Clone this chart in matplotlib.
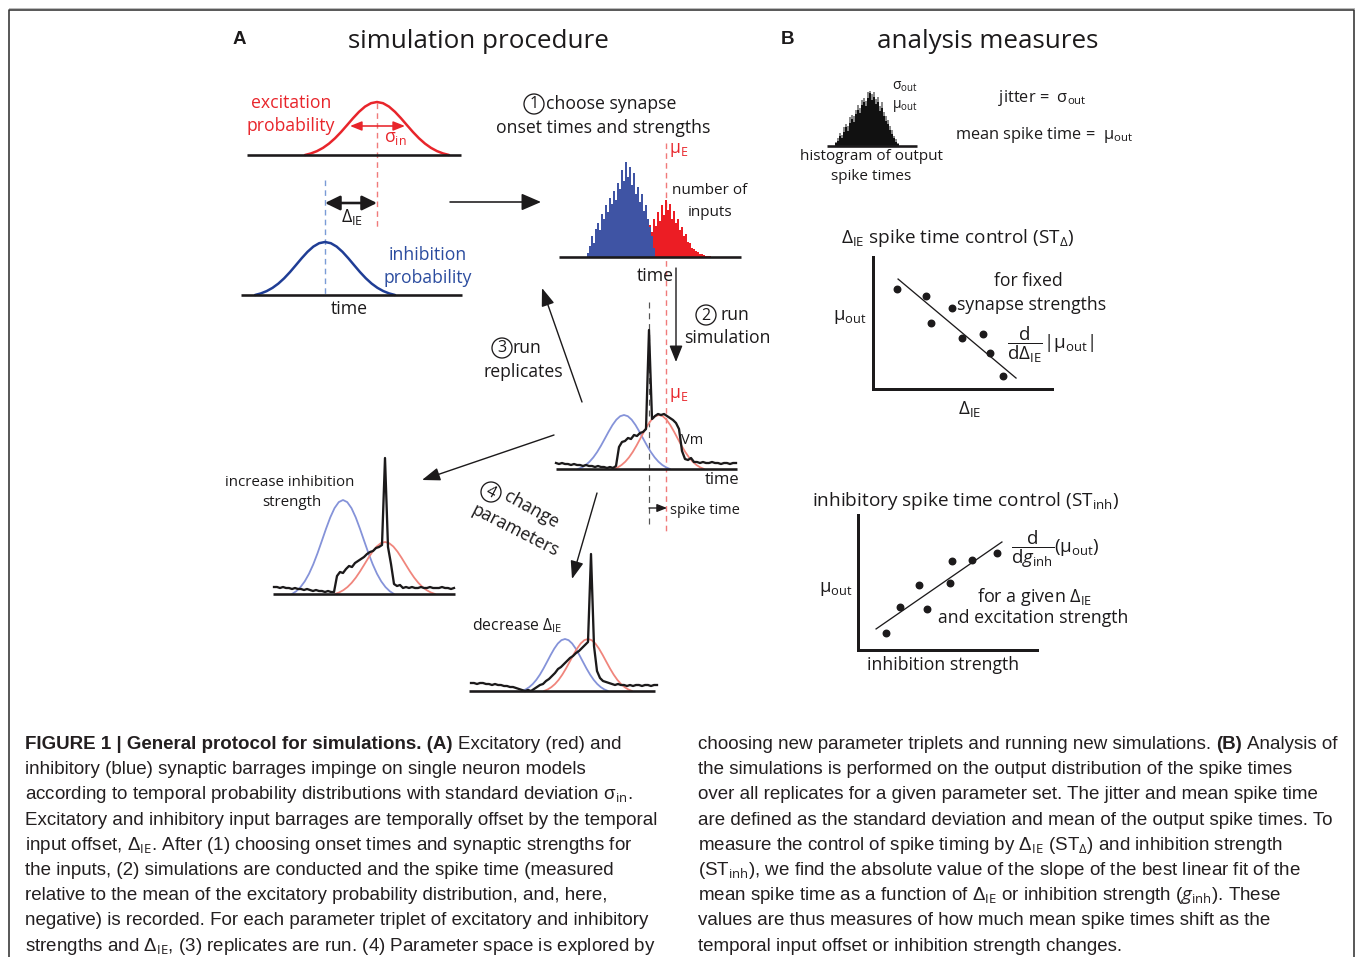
import numpy as np
import matplotlib
matplotlib.use("Agg")
import matplotlib.pyplot as plt
from matplotlib.patches import Circle

W, H = 1355, 957

# ---------------- data ----------------
# shared probability profile of the input-distribution curves (25 samples, centre = 1)
bump = [0.0, 0.0298, 0.0735, 0.1344, 0.2149, 0.3152, 0.4329, 0.5621, 0.6931, 0.8144, 0.9131,
        0.9775, 1.0, 0.9775, 0.9131, 0.8144, 0.6931, 0.5621, 0.4329, 0.3152, 0.2149, 0.1344,
        0.0735, 0.0298, 0.0]

# A: excitation / inhibition probability (mean time, half width in panel time units)
exc_prob_mean, exc_prob_half = 130, 72
inh_prob_mean, inh_prob_half = 84, 70

# A: histogram of input onset times (normalised counts, bins of 2 time units)
inh_first_bin = 14
inh_counts = [0.04, 0.12, 0.22, 0.15, 0.30, 0.36, 0.28, 0.45, 0.40, 0.55, 0.47, 0.62, 0.56, 0.70,
              0.60, 0.78, 0.72, 0.92, 0.80, 1.00, 0.84, 0.95, 0.76, 0.88, 0.66, 0.74, 0.58, 0.66,
              0.48, 0.55, 0.40, 0.32, 0.22, 0.10]
exc_first_bin = 43
exc_counts = [0.10, 0.24, 0.34, 0.26, 0.40, 0.33, 0.47, 0.38, 0.55, 0.44, 0.60, 0.50, 0.56, 0.40,
              0.48, 0.36, 0.40, 0.28, 0.32, 0.22, 0.24, 0.16, 0.15, 0.10, 0.08, 0.06, 0.05, 0.03,
              0.03, 0.02, 0.015, 0.01, 0.01]

# A: membrane potential traces (height above axis, sampled every 3 time units)
vm_step = 3
vm_sim = [6, 5, 6, 5, 5, 4, 5, 4, 4, 3, 4, 3, 3, 2, 3, 2, 2, 1, 2, 1,
          3, 22, 27, 28, 31, 30, 34, 33, 36, 37, 40, 139, 50, 53, 55, 54, 55, 53, 51, 49, 46, 40,
          18, 10, 9, 11, 7,
          7, 6, 7, 6, 6, 7, 6, 6, 5, 6, 6, 5, 6, 6]
vm_inc = [7, 7, 6, 7, 6, 6, 5, 6, 5, 5, 4, 5, 4, 3, 4, 3, 3, 2, 3, 2, 2,
          18, 22, 21, 25, 28, 27, 31, 33, 35, 37, 40, 42, 43, 46, 47, 49, 136, 47, 30, 10, 8, 9,
          6, 7, 6, 7, 6, 6, 7, 6, 6, 7, 6, 6, 6, 7, 6, 6, 5, 6]
vm_dec = [8, 8, 7, 8, 8, 7, 7, 6, 7, 6, 6, 5, 5, 4, 4, 3, 2, 1,
          0, 1, 0, 2, 4, 6, 7, 10, 12, 15, 18, 22, 24, 27, 30, 33, 35, 38, 40, 43, 46, 49, 137,
          45, 20, 13, 10, 9, 8,
          7, 6, 7, 6, 6, 5, 6, 5, 6, 6, 5, 6, 6, 5, 6, 6]
# input curves in the Vm panels: (mean, half width, height)
sim_inh, sim_exc = (68, 46, 54), (103, 45, 54)
inc_inh, inc_exc = (70, 51, 94), (112, 50, 52)
dec_inh, dec_exc = (96, 43, 52), (119, 44, 52)

# B: histogram of output spike times
out_first_bin = 4
out_counts = [0.05, 0.10, 0.18, 0.14, 0.26, 0.34, 0.28, 0.42, 0.50, 0.44, 0.58, 0.66, 0.60, 0.74,
              0.80, 0.72, 0.88, 0.96, 0.84, 0.90, 0.76, 0.80, 0.64, 0.70, 0.54, 0.46, 0.40, 0.30,
              0.22, 0.14, 0.08, 0.03]
out_counts_rep = [0.08, 0.14, 0.24, 0.20, 0.34, 0.40, 0.36, 0.52, 0.56, 0.54, 0.66, 0.74, 0.70,
                  0.84, 0.88, 0.82, 0.98, 1.00, 0.94, 0.98, 0.86, 0.90, 0.72, 0.80, 0.62, 0.54,
                  0.48, 0.36, 0.30, 0.18, 0.12, 0.05]

# B: spike time control scatter plots
delta_ie = [1.34, 2.96, 3.24, 4.41, 4.97, 6.15, 6.54, 7.26]
mu_out_delta = [7.58, 7.05, 5.00, 6.14, 3.86, 4.17, 2.73, 0.98]
fit_delta_x, fit_delta_y = [1.40, 7.99], [8.33, 0.83]
g_inh = [1.56, 2.35, 3.41, 3.85, 5.14, 5.25, 6.37, 7.77]
mu_out_inh = [1.26, 3.19, 4.81, 3.04, 4.96, 6.59, 6.67, 7.19]
fit_inh_x, fit_inh_y = [1.01, 8.04], [1.56, 8.00]

caption_left = [
    [("FIGURE 1 | General protocol for simulations. (A)", "bold"), ("Excitatory (red) and", "normal")],
    [("inhibitory (blue) synaptic barrages impinge on single neuron models", "normal")],
    [("according to temporal probability distributions with standard deviation σ$_{\\mathrm{in}}$.", "normal")],
    [("Excitatory and inhibitory input barrages are temporally offset by the temporal", "normal")],
    [("input offset, Δ$_{\\mathrm{IE}}$. After (1) choosing onset times and synaptic strengths for", "normal")],
    [("the inputs, (2) simulations are conducted and the spike time (measured", "normal")],
    [("relative to the mean of the excitatory probability distribution, and, here,", "normal")],
    [("negative) is recorded. For each parameter triplet of excitatory and inhibitory", "normal")],
    [("strengths and Δ$_{\\mathrm{IE}}$, (3) replicates are run. (4) Parameter space is explored by", "normal")],
]
caption_right = [
    [("choosing new parameter triplets and running new simulations.", "normal"), ("(B)", "bold"), ("Analysis of", "normal")],
    [("the simulations is performed on the output distribution of the spike times", "normal")],
    [("over all replicates for a given parameter set. The jitter and mean spike time", "normal")],
    [("are defined as the standard deviation and mean of the output spike times. To", "normal")],
    [("measure the control of spike timing by Δ$_{\\mathrm{IE}}$ (ST$_{\\Delta}$) and inhibition strength", "normal")],
    [("(ST$_{\\mathrm{inh}}$), we find the absolute value of the slope of the best linear fit of the", "normal")],
    [("mean spike time as a function of Δ$_{\\mathrm{IE}}$ or inhibition strength ($g_{\\mathrm{inh}}$). These", "normal")],
    [("values are thus measures of how much mean spike times shift as the", "normal")],
    [("temporal input offset or inhibition strength changes.", "normal")],
]

# ---------------- styling ----------------
plt.rcParams['font.family'] = ['Open Sans', 'DejaVu Sans']
plt.rcParams['mathtext.fontset'] = 'custom'
plt.rcParams['mathtext.rm'] = 'Open Sans'
plt.rcParams['mathtext.it'] = 'Open Sans:italic'
plt.rcParams['mathtext.bf'] = 'Open Sans:bold'
plt.rcParams['mathtext.sf'] = 'Open Sans'

K = '#1c1a1b'
RED = '#e8252b'
BLUE = '#1f3d95'
BLUE_TXT = '#2b4c9f'
LBLUE = '#8593d9'
LRED = '#f0857c'
RED_DASH = '#f07a7a'
BLUE_DASH = '#7a9bd6'
HIST_BLUE = '#3f54a4'
HIST_RED = '#ec1d24'
CAP = 'Liberation Sans'
PX = 72 / 100  # points per pixel
LBL = 12.7     # standard label size

fig = plt.figure(figsize=(W / 100, H / 100), dpi=100)
ax = fig.add_axes([0, 0, 1, 1])
ax.set_xlim(0, W)
ax.set_ylim(H, 0)
ax.set_axis_off()


def panel(x0, x1, y_base, y_top, xlim, ylim):
    a = fig.add_axes([x0 / W, 1 - y_base / H, (x1 - x0) / W, (y_base - y_top) / H])
    a.set_xlim(*xlim)
    a.set_ylim(*ylim)
    a.set_axis_off()
    return a


def curve(a, mean, half, height, color, lw):
    t = mean + np.linspace(-1, 1, len(bump)) * half
    a.plot(t, np.array(bump) * height, color=color, lw=lw, clip_on=False, solid_capstyle='round')


def base(a, lw=2.6):
    x0, x1 = a.get_xlim()
    a.plot([x0, x1], [0, 0], color=K, lw=lw * PX, clip_on=False, solid_capstyle='butt')


def txt(x, y, s, size=LBL, color=K, ha='center', va='center', **kw):
    return ax.text(x, y, s, fontsize=size, color=color, ha=ha, va=va, **kw)


def arrow(tail, head, style='-|>,head_length=0.5,head_width=0.2', lw=1.4, color=K, ms=20):
    ax.annotate('', xy=head, xytext=tail,
                arrowprops=dict(arrowstyle=style, color=color, lw=lw * PX, mutation_scale=ms,
                                shrinkA=0, shrinkB=0))


def circ(x, y, digit, r=10, size=11.5, rot=0):
    ax.add_patch(Circle((x, y), r, fill=False, ec=K, lw=1.3 * PX))
    ax.text(x, y + 0.5, digit, fontsize=size, ha='center', va='center', color=K, rotation=rot)


# ---------------- frame ----------------
ax.plot([8.5, 8.5, 1353.5, 1353.5], [H + 5, 9.5, 9.5, H + 5], color='#333333', lw=1.6 * PX)
ax.plot([8.5, 1353.5], [8, 8], color='#bbbbbb', lw=1 * PX)

# ---------------- panel A ----------------
txt(239, 40, 'A', size=13.5, weight='bold', family='Liberation Sans')
txt(478, 42, 'simulation procedure', size=18.7)

# excitation probability
a1 = panel(247, 461, 155, 102, (0, 214), (0, 1))
curve(a1, exc_prob_mean, exc_prob_half, 1.0, RED, 2.5 * PX)
base(a1)
txt(291, 103, 'excitation', color=RED)
txt(291, 126, 'probability', color=RED)
arrow((350, 126), (405, 126), '<|-|>,head_length=0.35,head_width=0.14', lw=1.6, color=RED)
txt(384, 138, 'σ$_{\\mathrm{in}}$', color=RED, ha='left')
ax.plot([377, 377], [103, 228], color=RED_DASH, lw=1.4 * PX, dashes=(4, 3))

# inhibition probability
a2 = panel(241, 462, 295, 242, (0, 221), (0, 1))
curve(a2, inh_prob_mean, inh_prob_half, 1.0, BLUE, 2.5 * PX)
base(a2)
ax.plot([325, 325], [180, 294], color=BLUE_DASH, lw=1.4 * PX, dashes=(4, 3))
arrow((325, 203), (377, 203), '<|-|>,head_length=0.45,head_width=0.22', lw=2.6)
txt(352, 217, 'Δ$_{\\mathrm{IE}}$')
txt(428, 255, 'inhibition', color=BLUE_TXT)
txt(428, 278, 'probability', color=BLUE_TXT)
txt(349, 309, 'time')

arrow((450, 202), (541, 202), '-|>,head_length=0.6,head_width=0.26', lw=1.6)

# step 1: input histogram
circ(534, 104, '1')
txt(546, 104, 'choose synapse', ha='left')
txt(603, 128, 'onset times and strengths')
a3 = panel(559, 741, 257, 162, (0, 182), (0, 1))
a3.bar((exc_first_bin + np.arange(len(exc_counts))) * 2, exc_counts, width=1.7, align='edge',
       color=HIST_RED, linewidth=0)
a3.bar((inh_first_bin + np.arange(len(inh_counts))) * 2, inh_counts, width=1.7, align='edge',
       color=HIST_BLUE, linewidth=0)
base(a3)
ax.plot([666, 666], [143, 532], color=RED_DASH, lw=1.4 * PX, dashes=(4, 3))
txt(669, 150, 'μ$_{\\mathrm{E}}$', color=RED, ha='left')
txt(710, 191, 'number of', size=11)
txt(710, 212, 'inputs', size=11)
txt(655, 276, 'time')

# step 2: run simulation
arrow((676, 268), (676, 362), '-|>,head_length=0.5,head_width=0.2', lw=1.4)
circ(706, 315, '2')
txt(721, 315, 'run', ha='left')
txt(727, 338, 'simulation')

a4 = panel(556, 737, 469, 329, (0, 181), (0, 140))
curve(a4, *sim_inh, LBLUE, 1.8 * PX)
curve(a4, *sim_exc, LRED, 1.8 * PX)
base(a4)
a4.plot(np.arange(len(vm_sim)) * vm_step, vm_sim, color=K, lw=2.3 * PX, clip_on=False)
ax.plot([649, 649], [302, 525], color='#555555', lw=1.2 * PX, dashes=(5, 4))
txt(669, 395, 'μ$_{\\mathrm{E}}$', color=RED, ha='left')
txt(681, 440, 'Vm', ha='left', size=10.5)
txt(722, 480, 'time', size=12)
arrow((649, 508), (667, 508), '-|>,head_length=0.3,head_width=0.12', lw=1.3)
txt(670, 511, 'spike time', ha='left', size=10.5)

# step 3: replicates
arrow((582, 402), (542, 288), '-|>,head_length=0.55,head_width=0.2', lw=1.4)
circ(502, 348, '3')
txt(513, 348, 'run', ha='left')
txt(523, 372, 'replicates')

# step 4: change parameters
arrow((554, 435), (422, 480), '-|>,head_length=0.55,head_width=0.2', lw=1.4)
arrow((597, 493), (572, 579), '-|>,head_length=0.55,head_width=0.2', lw=1.4)
circ(491, 492, '4', rot=-28)
ax.text(531, 510, 'change', fontsize=LBL, rotation=-29, ha='center', va='center',
        rotation_mode='anchor', color=K)
ax.text(515, 531, 'parameters', fontsize=LBL, rotation=-27, ha='center', va='center',
        rotation_mode='anchor', color=K)

# increased inhibition strength
txt(290, 482, 'increase inhibition', size=10.9)
txt(292, 503, 'strength', size=10.9)
a5 = panel(273, 455, 594, 454, (0, 182), (0, 140))
curve(a5, *inc_inh, LBLUE, 1.8 * PX)
curve(a5, *inc_exc, LRED, 1.8 * PX)
base(a5)
a5.plot(1 + np.arange(len(vm_inc)) * vm_step, vm_inc, color=K, lw=2.3 * PX, clip_on=False)

# decreased offset
txt(517, 626, 'decrease Δ$_{\\mathrm{IE}}$', size=11.3)
a6 = panel(469, 655, 691, 551, (0, 186), (0, 140))
curve(a6, *dec_inh, LBLUE, 1.8 * PX)
curve(a6, *dec_exc, LRED, 1.8 * PX)
base(a6)
a6.plot(2 + np.arange(len(vm_dec)) * vm_step, vm_dec, color=K, lw=2.3 * PX, clip_on=False)

# ---------------- panel B ----------------
txt(787, 40, 'B', size=13.5, weight='bold', family='Liberation Sans')
txt(988, 42, 'analysis measures', size=18.7)

a7 = panel(827, 917, 146, 91, (0, 90), (0, 1))
a7.bar((out_first_bin + np.arange(len(out_counts_rep))) * 2, out_counts_rep, width=1.6,
       align='edge', color='#8a8a8a', linewidth=0)
a7.bar((out_first_bin + np.arange(len(out_counts))) * 2, out_counts, width=1.9,
       align='edge', color='#111111', linewidth=0)
base(a7)
txt(892, 86, 'σ$_{\\mathrm{out}}$', ha='left', size=10)
txt(892, 106, 'μ$_{\\mathrm{out}}$', ha='left', size=10)
txt(871, 157, 'histogram of output', size=11)
txt(871, 177, 'spike times', size=11)
txt(998, 98, 'jitter =  σ$_{\\mathrm{out}}$', ha='left', size=11.8)
txt(955, 135, 'mean spike time =  μ$_{\\mathrm{out}}$', ha='left', size=11.8)


def scatter_panel(x0, x1, y0, y1, xs, ys, fx, fy):
    a = fig.add_axes([x0 / W, 1 - y1 / H, (x1 - x0) / W, (y1 - y0) / H])
    a.set_xlim(0, 10)
    a.set_ylim(0, 10)
    for s in ('top', 'right'):
        a.spines[s].set_visible(False)
    for s in ('left', 'bottom'):
        a.spines[s].set_linewidth(3 * PX)
        a.spines[s].set_color(K)
    a.set_xticks([])
    a.set_yticks([])
    a.patch.set_visible(False)
    a.scatter(xs, ys, s=22, color=K, zorder=3, clip_on=False)
    a.plot(fx, fy, color=K, lw=1.3 * PX, clip_on=False)
    return a


txt(958, 238, 'Δ$_{\\mathrm{IE}}$ spike time control (ST$_{\\Delta}$)', size=13.7)
scatter_panel(873, 1052, 257, 389, delta_ie, mu_out_delta, fit_delta_x, fit_delta_y)
txt(850, 317, 'μ$_{\\mathrm{out}}$', size=13.2)
txt(970, 409, 'Δ$_{\\mathrm{IE}}$', size=13.5)
txt(1028, 281, 'for fixed')
txt(957, 305, 'synapse strengths', ha='left')
txt(1007, 345, r'$\dfrac{\mathrm{d}}{\mathrm{d}\Delta_{\mathrm{IE}}}|\mathrm{\mu}_{\mathrm{out}}|$',
    ha='left', size=13.5)

txt(966, 501, 'inhibitory spike time control (ST$_{\\mathrm{inh}}$)', size=13.7)
scatter_panel(858, 1037, 515, 650, g_inh, mu_out_inh, fit_inh_x, fit_inh_y)
txt(836, 589, 'μ$_{\\mathrm{out}}$', size=13.2)
txt(1011, 549, r'$\dfrac{\mathrm{d}}{\mathrm{d}g_{\mathrm{inh}}}(\mathrm{\mu}_{\mathrm{out}})$',
    ha='left', size=13.5)
txt(1035, 597, 'for a given Δ$_{\\mathrm{IE}}$', size=13)
txt(1033, 618, 'and excitation strength')
txt(943, 665, 'inhibition strength')

# ---------------- caption ----------------
renderer = fig.canvas.get_renderer()


def width(s, size, weight='normal'):
    t = ax.text(0, 0, s, fontsize=size, family=CAP, fontweight=weight)
    w = t.get_window_extent(renderer).width
    t.remove()
    return w


probe = caption_left[3][0][0]
cap_size = 12 * 635 / width(probe, 12)
space = width('x x', cap_size) - width('xx', cap_size)


def caption(x0, lines):
    for i, runs in enumerate(lines):
        y = 749 + i * 25.2
        x = x0
        for s, wgt in runs:
            t = ax.text(x, y, s, fontsize=cap_size, family=CAP, fontweight=wgt,
                        ha='left', va='baseline', color='#231f20')
            x += t.get_window_extent(renderer).width + space


caption(25, caption_left)
caption(698, caption_right)

fig.savefig('out.png', dpi=100)
